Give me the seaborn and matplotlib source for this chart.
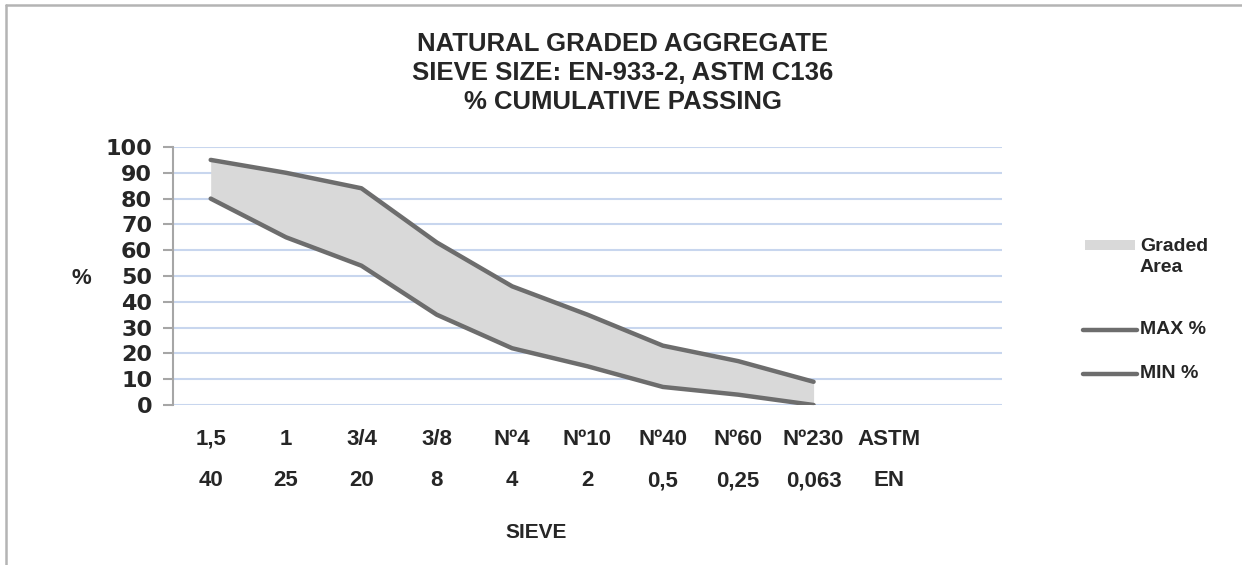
import matplotlib
matplotlib.use("Agg")
import matplotlib.pyplot as plt
from matplotlib.lines import Line2D
from matplotlib.patches import Rectangle
import numpy as np
import pandas as pd
import seaborn as sns

# ── data ────────────────────────────────────────────────────────────────
SIEVE_ASTM = ["1,5", "1", "3/4", "3/8", "Nº4", "Nº10", "Nº40", "Nº60", "Nº230", "ASTM", ""]
SIEVE_EN   = ["40", "25", "20", "8", "4", "2", "0,5", "0,25", "0,063", "EN", ""]
MAX_PCT    = [95, 90, 84, 63, 46, 35, 23, 17, 9]
MIN_PCT    = [80, 65, 54, 35, 22, 15, 7, 4, 0]
Y_TICKS    = list(range(0, 101, 10))

LINE_CLR = "#6d6d6d"
FILL_CLR = "#d9d9d9"
GRID_CLR = "#c8d6ee"
AXIS_CLR = "#a6a6a6"

pos = np.arange(len(MAX_PCT))
df = pd.DataFrame({
    "pos":    np.concatenate([pos, pos]),
    "pct":    MAX_PCT + MIN_PCT,
    "series": ["MAX %"] * len(MAX_PCT) + ["MIN %"] * len(MIN_PCT),
})

sns.set_theme(style="white")
plt.rcParams["font.family"] = ["Liberation Sans", "DejaVu Sans"]

W, H = 1242, 565
fig = plt.figure(figsize=(W / 100, H / 100), dpi=100)
ax = fig.add_axes([173 / W, 1 - 405 / H, (1002 - 173) / W, (405 - 147) / H])

# graded band + limit curves
ax.fill_between(pos, MIN_PCT, MAX_PCT, color=FILL_CLR, lw=0, zorder=1)
sns.lineplot(data=df, x="pos", y="pct", hue="series",
             palette={"MAX %": LINE_CLR, "MIN %": LINE_CLR},
             lw=3.2, legend=False, ax=ax, zorder=3)

# axes styling
ax.set_xlim(-0.5, len(SIEVE_ASTM) - 0.5)
ax.set_ylim(0, 100)
ax.set_yticks(Y_TICKS)
ax.yaxis.grid(True, color=GRID_CLR, lw=1.5, zorder=0)
ax.xaxis.grid(False)
for side in ["top", "right", "bottom"]:
    ax.spines[side].set_visible(False)
ax.spines["left"].set_color(AXIS_CLR)
ax.spines["left"].set_linewidth(1.5)
ax.tick_params(axis="y", left=True, length=7, width=1.5, color=AXIS_CLR, pad=8)
for lbl in ax.get_yticklabels():
    lbl.set_fontweight("bold")
    lbl.set_fontsize(16)
    lbl.set_family("DejaVu Sans")

ax.set_xticks(range(len(SIEVE_ASTM)))
ax.set_xticklabels([f"{a}\n{e}" for a, e in zip(SIEVE_ASTM, SIEVE_EN)],
                   fontsize=16, fontweight="bold", linespacing=2.3)
ax.tick_params(axis="x", bottom=False, length=0, pad=17)
ax.set_xlabel("")
ax.set_ylabel("")

# labels & title
fig.text(81 / W, 1 - 279 / H, "%", ha="center", va="center",
         fontsize=16, fontweight="bold")
fig.text(536 / W, 1 - 532 / H, "SIEVE", ha="center", va="center",
         fontsize=15, fontweight="bold")
fig.text(623 / W, 1 - 73 / H,
         "NATURAL GRADED AGGREGATE\nSIEVE SIZE: EN-933-2, ASTM C136\n% CUMULATIVE PASSING",
         ha="center", va="center", fontsize=18.5, fontweight="bold", linespacing=1.28)

# legend (drawn by hand so the swatch sits on the first label line)
fig.add_artist(Rectangle((1085 / W, 1 - 250 / H), 50 / W, 10 / H,
                         transform=fig.transFigure, facecolor=FILL_CLR, edgecolor="none"))
fig.text(1140 / W, 1 - 257 / H, "Graded\nArea", ha="left", va="center",
         fontsize=14, fontweight="bold", linespacing=1.35)
for y, lab in [(330, "MAX %"), (374, "MIN %")]:
    fig.add_artist(Line2D([1083 / W, 1137 / W], [1 - y / H, 1 - y / H],
                          transform=fig.transFigure, color=LINE_CLR, lw=3.2))
    fig.text(1140 / W, 1 - y / H, lab, ha="left", va="center",
             fontsize=14, fontweight="bold")

# outer chart border (top + left)
fig.add_artist(Line2D([6 / W, 1], [1 - 5 / H, 1 - 5 / H], transform=fig.transFigure,
                      color="#b4b4b4", lw=1.8))
fig.add_artist(Line2D([6 / W, 6 / W], [0, 1 - 5 / H], transform=fig.transFigure,
                      color="#b4b4b4", lw=1.8))

fig.savefig("out.png", dpi=100, facecolor="white")
